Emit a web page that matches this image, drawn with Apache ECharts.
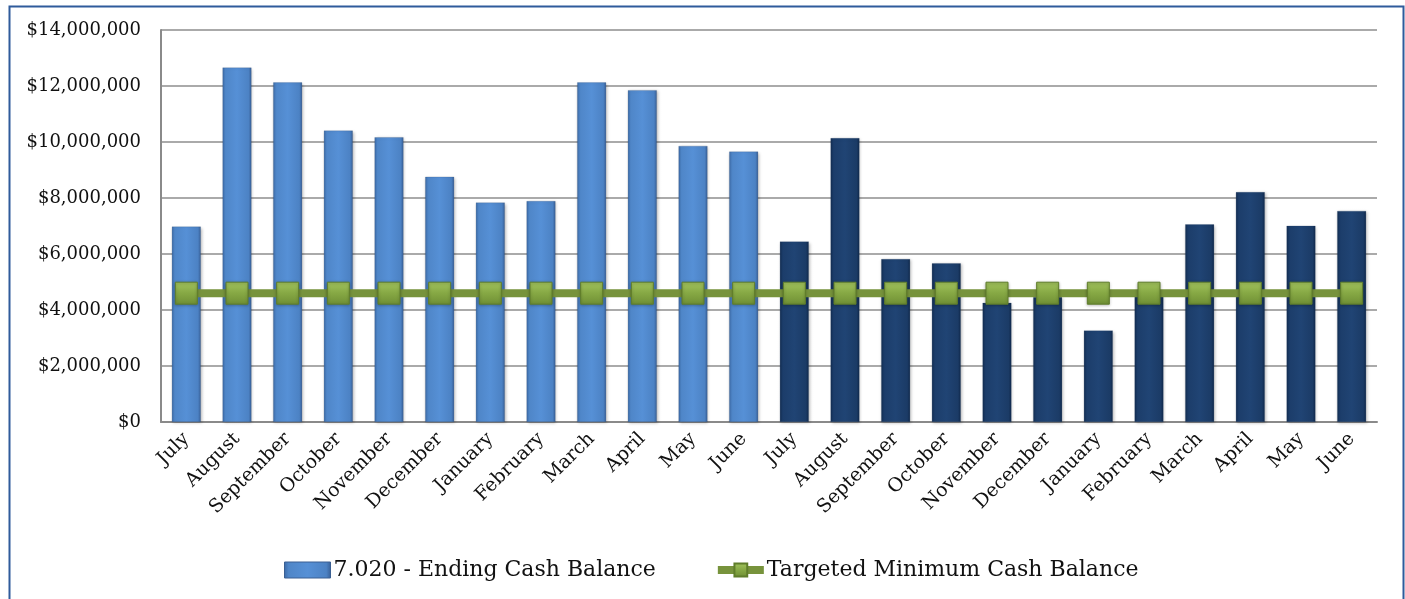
<!DOCTYPE html>
<html>
<head>
<meta charset="utf-8">
<script src="https://cdn.jsdelivr.net/npm/echarts@6/dist/echarts.min.js"></script>
<style>
html,body{margin:0;padding:0;background:#fff;}
#chart{width:1405px;height:599px;}
</style>
</head>
<body>
<div id="chart"></div>
<script>
// ---- data ----
var categories = ["July","August","September","October","November","December","January","February","March","April","May","June",
                  "July","August","September","October","November","December","January","February","March","April","May","June"];
var endingCashYear1 = [6980000, 12660000, 12130000, 10410000, 10170000, 8760000, 7840000, 7890000, 12130000, 11850000, 9860000, 9660000];
var endingCashYear2 = [6450000, 10140000, 5820000, 5670000, 4260000, 4460000, 3270000, 4500000, 7060000, 8210000, 7010000, 7540000];
var targetMinimum = [4600000,4600000,4600000,4600000,4600000,4600000,4600000,4600000,4600000,4600000,4600000,4600000,
                     4600000,4600000,4600000,4600000,4600000,4600000,4600000,4600000,4600000,4600000,4600000,4600000];
var yTicks = [0, 2000000, 4000000, 6000000, 8000000, 10000000, 12000000, 14000000];
var seriesNames = ["7.020 - Ending Cash Balance", "Targeted Minimum Cash Balance"];

// ---- styles ----
var FONT = "DejaVu Serif";
function hGrad(stops){
  return new echarts.graphic.LinearGradient(0,0,1,0, stops.map(function(s){return {offset:s[0], color:s[1]};}));
}
var lightBlue = hGrad([[0,'#3b69a6'],[0.1,'#4f86c8'],[0.5,'#5690d6'],[0.9,'#4c82c4'],[1,'#385f96']]);
var darkBlue = hGrad([[0,'#122c50'],[0.1,'#1c3d6a'],[0.5,'#204474'],[0.9,'#1b3b66'],[1,'#10284a']]);
var greenMarker = new echarts.graphic.LinearGradient(0,0,0,1,[
  {offset:0,color:'#a3c45e'},{offset:0.5,color:'#86a844'},{offset:1,color:'#6f8f35'}]);

var barData = endingCashYear1.map(function(v){return v;})
  .concat(endingCashYear2.map(function(v){return {value:v, itemStyle:{color:darkBlue}};}));

function money(v){
  return '$' + String(Math.round(v)).replace(/\B(?=(\d{3})+(?!\d))/g, ',');
}

var chart = echarts.init(document.getElementById('chart'), null, {renderer:'canvas'});
chart.setOption({
  animation:false,
  backgroundColor:'#ffffff',
  graphic:[{
    type:'rect', left:7, top:4, z:100, silent:true,
    shape:{width:1394, height:640},
    style:{fill:'none', stroke:'#2f5b9b', lineWidth:2}
  }],
  grid:{left:161, right:28, top:30, bottom:177, containLabel:false},
  legend:{
    data:[
      {name:seriesNames[0], icon:'rect', itemStyle:{borderColor:'#3a5f92', borderWidth:1}},
      {name:seriesNames[1], lineStyle:{width:8, color:'#77933c'}}
    ],
    left:279, top:554,
    itemGap:58, itemWidth:46, itemHeight:16,
    textStyle:{fontFamily:FONT, fontSize:22, color:'#111', padding:[0,0,0,-2]}
  },
  xAxis:{
    type:'category',
    data:categories,
    axisLine:{lineStyle:{color:'#8a8a8a', width:2}},
    axisTick:{show:false},
    axisLabel:{rotate:45, interval:0, margin:14, fontFamily:FONT, fontSize:19, color:'#111'}
  },
  yAxis:{
    type:'value',
    min:yTicks[0], max:yTicks[yTicks.length-1], interval:yTicks[1]-yTicks[0],
    axisLine:{show:true, lineStyle:{color:'#8a8a8a', width:2}},
    axisTick:{show:false},
    splitLine:{lineStyle:{color:'#8e8e8e', width:1.5}},
    axisLabel:{margin:20, fontFamily:FONT, fontSize:18, color:'#111', formatter:money}
  },
  series:[{
    name:seriesNames[0],
    type:'bar',
    data:barData,
    barWidth:29,
    itemStyle:{color:lightBlue, borderColor:'rgba(30,60,100,0.35)', borderWidth:0.5,
      shadowColor:'rgba(0,0,0,0.25)', shadowBlur:3, shadowOffsetX:1, shadowOffsetY:1}
  },{
    name:seriesNames[1],
    type:'line',
    data:targetMinimum,
    symbol:'rect',
    symbolSize:22,
    z:5,
    lineStyle:{color:'#77933c', width:8},
    itemStyle:{color:greenMarker, borderColor:'#5f7d2a', borderWidth:1,
      shadowColor:'rgba(0,0,0,0.3)', shadowBlur:3, shadowOffsetY:1}
  }]
});
</script>
</body>
</html>
